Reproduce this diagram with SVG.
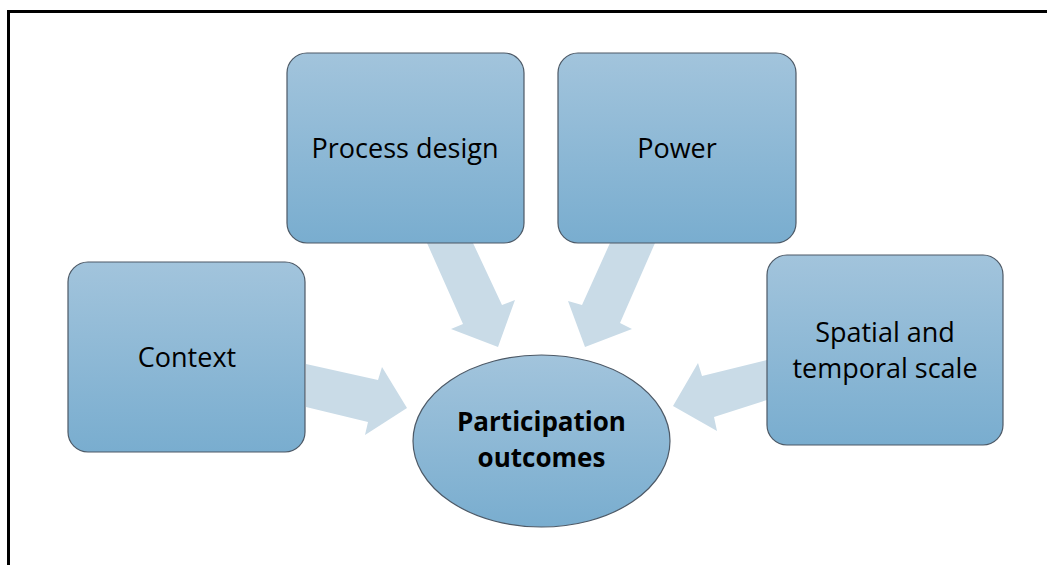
<svg xmlns="http://www.w3.org/2000/svg" width="1047" height="565" viewBox="0 0 1047 565">
<defs>
<linearGradient id="g" x1="0" y1="0" x2="0" y2="1">
<stop offset="0" stop-color="#a2c4dc"/>
<stop offset="1" stop-color="#79adcf"/>
</linearGradient>
</defs>
<style>
.box{fill:url(#g);stroke:#4d5966;stroke-width:1.2}
.arr{fill:#c9dbe7}
.t{font-family:"Open Sans","Noto Sans",sans-serif;font-size:27px;fill:#000;text-anchor:middle}
.b{font-weight:bold;font-size:26px}
</style>
<rect width="1047" height="565" fill="#fff"/>
<path d="M8.5 565V11.5H1047" fill="none" stroke="#000" stroke-width="3"/>
<g id="connectors">
<polygon class="arr" points="427,243 473,243 502,305 515,300 498,347 451,329 463,324"/>
<polygon class="arr" points="610,243 655,243 620,323 632,329 585,347 568,301 582,305"/>
<polygon class="arr" points="306,364 378,380 382,367 407,408 365,435 368,422 306,407"/>
<polygon class="arr" points="767,360 702,376 698,363 673,406 717,431 714,417 767,400"/>
</g>
<g id="process-design">
<rect class="box" x="287" y="53" width="237" height="190" rx="20"/>
<text class="t" x="405" y="158">Process design</text>
</g>
<g id="power">
<rect class="box" x="558" y="53" width="238" height="190" rx="20"/>
<text class="t" x="677" y="158">Power</text>
</g>
<g id="context">
<rect class="box" x="68" y="262" width="237" height="190" rx="20"/>
<text class="t" x="187" y="367">Context</text>
</g>
<g id="spatial-temporal">
<rect class="box" x="767" y="255" width="236" height="190" rx="20"/>
<text class="t" x="885" y="342">Spatial and</text>
<text class="t" x="885" y="378">temporal scale</text>
</g>
<g id="participation-outcomes">
<ellipse class="box" cx="541.5" cy="441" rx="128.5" ry="86"/>
<text class="t b" x="541.5" y="431">Participation</text>
<text class="t b" x="541.5" y="467">outcomes</text>
</g>
</svg>
